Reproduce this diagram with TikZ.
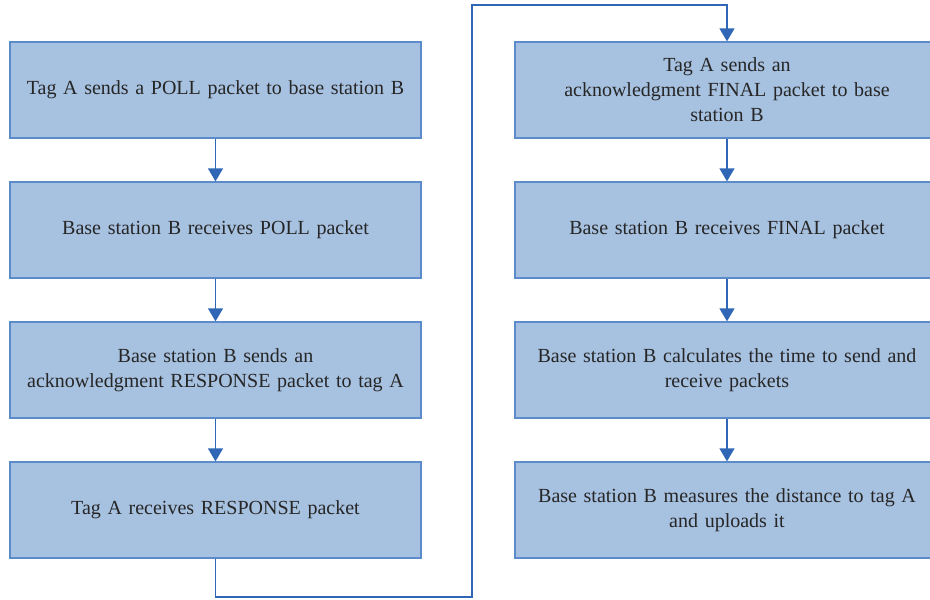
\documentclass[tikz,border=0pt]{standalone}
\usepackage{fontspec}
\setmainfont[WordSpace=0.6]{Liberation Serif}
\usetikzlibrary{arrows.meta}
\definecolor{boxfill}{HTML}{A7C1E0}
\definecolor{boxline}{HTML}{5B8BCB}
\definecolor{flow}{HTML}{2F67B6}
\begin{document}
\begin{tikzpicture}[x=1pt,y=-1pt,
  stepbox/.style={draw=boxline,fill=boxfill,line width=1.3pt,minimum height=96pt,
    align=center,inner sep=0pt,font=\fontsize{20}{25}\selectfont,text=black!85},
  leftbox/.style={stepbox,minimum width=411pt,text width=405pt},
  rightbox/.style={stepbox,minimum width=424pt,text width=410pt},
  flowline/.style={draw=flow,line width=1.3pt},
  flowarrow/.style={flowline,-{Triangle[width=15pt,length=13pt]}}]
\useasboundingbox (0,0) rectangle (930,600);
\begin{scope}
\clip (0,0) rectangle (930,600);
% left column
\node[leftbox] (l1) at (215.5,90) {Tag A sends a POLL packet to base station B};
\node[leftbox] (l2) at (215.5,230) {Base station B receives POLL packet};
\node[leftbox] (l3) at (215.5,370) {Base station B sends an\\acknowledgment RESPONSE packet to tag A};
\node[leftbox] (l4) at (215.5,510) {Tag A receives RESPONSE packet};
% right column
\node[rightbox] (r1) at (727,90) {Tag A sends an\\acknowledgment FINAL packet to base\\station B};
\node[rightbox] (r2) at (727,230) {Base station B receives FINAL packet};
\node[rightbox] (r3) at (727,370) {Base station B calculates the time to send and\\receive packets};
\node[rightbox] (r4) at (727,510) {Base station B measures the distance to tag A\\and uploads it};
\end{scope}
% connectors
\draw[flowarrow] (l1.south) -- (l2.north);
\draw[flowarrow] (l2.south) -- (l3.north);
\draw[flowarrow] (l3.south) -- (l4.north);
\coordinate (c1) at (472,597);
\coordinate (c2) at (472,5);
\draw[flowarrow] (l4.south) |- (c1) -- (c2) -| (r1.north);
\draw[flowarrow] (r1.south) -- (r2.north);
\draw[flowarrow] (r2.south) -- (r3.north);
\draw[flowarrow] (r3.south) -- (r4.north);
\end{tikzpicture}
\end{document}
